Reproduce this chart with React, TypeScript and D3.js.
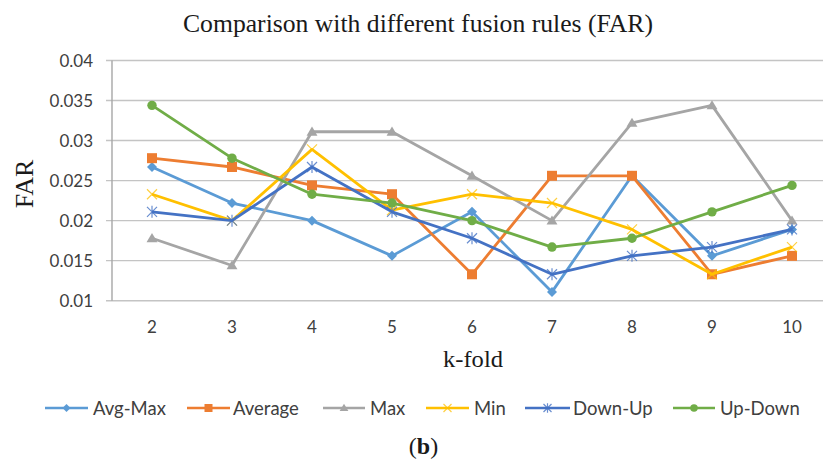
import React from "react";
import * as d3 from "d3";

const folds = ["2", "3", "4", "5", "6", "7", "8", "9", "10"];
const avgMax = [0.0267, 0.0222, 0.02, 0.0156, 0.0211, 0.0111, 0.0256, 0.0156, 0.0189];
const average = [0.0278, 0.0267, 0.0244, 0.0233, 0.0133, 0.0256, 0.0256, 0.0133, 0.0156];
const maxRule = [0.0178, 0.0144, 0.0311, 0.0311, 0.0256, 0.02, 0.0322, 0.0344, 0.02];
const minRule = [0.0233, 0.02, 0.0289, 0.0213, 0.0233, 0.0222, 0.0189, 0.0133, 0.0167];
const downUp = [0.0211, 0.02, 0.0267, 0.0211, 0.0178, 0.0133, 0.0156, 0.0167, 0.0189];
const upDown = [0.0344, 0.0278, 0.0233, 0.0222, 0.02, 0.0167, 0.0178, 0.0211, 0.0244];
const yTicks = [0.01, 0.015, 0.02, 0.025, 0.03, 0.035, 0.04];
const seriesNames = ["Avg-Max", "Average", "Max", "Min", "Down-Up", "Up-Down"];

type Marker = "diamond" | "square" | "triangle" | "x" | "star" | "circle";
const series: { name: string; values: number[]; color: string; marker: Marker }[] = [
  { name: seriesNames[0], values: avgMax, color: "#5B9BD5", marker: "diamond" },
  { name: seriesNames[1], values: average, color: "#ED7D31", marker: "square" },
  { name: seriesNames[2], values: maxRule, color: "#A5A5A5", marker: "triangle" },
  { name: seriesNames[3], values: minRule, color: "#FFC000", marker: "x" },
  { name: seriesNames[4], values: downUp, color: "#4472C4", marker: "star" },
  { name: seriesNames[5], values: upDown, color: "#70AD47", marker: "circle" },
];

const W = 823;
const H = 463;
const left = 112;
const right = 832;
const top = 60.5;
const bottom = 300.7;

const x = d3.scaleBand<string>().domain(folds).range([left, right]);
const y = d3.scaleLinear().domain([0.01, 0.04]).range([bottom, top]);
const cx = (k: string) => (x(k) as number) + x.bandwidth() / 2;

const SANS = "Lato, 'Open Sans', sans-serif";
const SERIF = "'Liberation Serif', 'Times New Roman', serif";

function MarkerShape({ kind, px, py, color, s = 1 }: { kind: Marker; px: number; py: number; color: string; s?: number }) {
  switch (kind) {
    case "diamond": {
      const r = 5 * s;
      return <path d={`M${px},${py - r}L${px + r},${py}L${px},${py + r}L${px - r},${py}Z`} fill={color} />;
    }
    case "square": {
      const h = 5 * s;
      return <rect x={px - h} y={py - h} width={2 * h} height={2 * h} fill={color} />;
    }
    case "triangle": {
      const h = 5.2 * s;
      return (
        <path
          d={`M${px},${py - h}L${px + h * 1.05},${py + h * 0.75}L${px - h * 1.05},${py + h * 0.75}Z`}
          fill={color}
        />
      );
    }
    case "x": {
      const r = 5 * s;
      return (
        <path
          d={`M${px - r},${py - r}L${px + r},${py + r}M${px - r},${py + r}L${px + r},${py - r}`}
          stroke={color}
          strokeOpacity={0.75}
          strokeWidth={1.2}
        />
      );
    }
    case "star": {
      const r = 5 * s;
      return (
        <path
          d={`M${px - r},${py - r}L${px + r},${py + r}M${px - r},${py + r}L${px + r},${py - r}M${px},${py - r * 1.2}L${px},${py + r * 1.2}`}
          stroke={color}
          strokeOpacity={0.8}
          strokeWidth={1.2}
        />
      );
    }
    case "circle":
      return <circle cx={px} cy={py} r={4.7 * s} fill={color} />;
  }
}

// legend: [line start, line end, text start]
const legendLayout = [
  [45, 88, 93],
  [187, 230, 233],
  [323, 365, 370],
  [426, 469, 474],
  [525, 570, 573],
  [673, 715, 720],
];

export default function App() {
  const line = d3
    .line<number>()
    .x((_, i) => cx(folds[i]))
    .y((v) => y(v));

  return (
    <svg width={W} height={H} style={{ position: "absolute", left: 0, top: 0, background: "#fff" }}>
      <rect width={W} height={H} fill="#fff" />
      <text
        x={183}
        y={31.5}
        textLength={470}
        lengthAdjust="spacingAndGlyphs"
        fontFamily={SERIF}
        fontSize={25}
        fill="#1a1a1a"
      >
        Comparison with different fusion rules (FAR)
      </text>

      {yTicks.map((t) => (
        <g key={t}>
          <line x1={left - 6} x2={right} y1={y(t)} y2={y(t)} stroke="#C4C4C4" strokeWidth={1.4} />
          <text x={93} y={y(t)} dy="0.36em" textAnchor="end" fontFamily={SANS} fontSize={17} fill="#404040">
            {String(t)}
          </text>
        </g>
      ))}
      <line x1={left} x2={left} y1={top} y2={bottom} stroke="#A6A6A6" strokeWidth={1.4} />

      {folds.map((k) => (
        <text key={k} x={cx(k)} y={333} textAnchor="middle" fontFamily={SANS} fontSize={17} fill="#404040">
          {k}
        </text>
      ))}

      <text
        transform={`translate(33,184) rotate(-90)`}
        textAnchor="middle"
        fontFamily={SERIF}
        fontSize={26}
        fill="#1a1a1a"
      >
        FAR
      </text>
      <text
        x={443}
        y={367}
        textLength={60}
        lengthAdjust="spacingAndGlyphs"
        fontFamily={SERIF}
        fontSize={23}
        fill="#1a1a1a"
      >
        k-fold
      </text>

      {series.map((s) => (
        <g key={s.name}>
          <path d={line(s.values) || ""} fill="none" stroke={s.color} strokeWidth={2.8} strokeLinejoin="round" />
          {s.values.map((v, i) => (
            <MarkerShape key={i} kind={s.marker} px={cx(folds[i])} py={y(v)} color={s.color} />
          ))}
        </g>
      ))}

      {series.map((s, i) => {
        const [x1, x2, tx] = legendLayout[i];
        const ly = 408;
        return (
          <g key={s.name}>
            <line x1={x1} x2={x2} y1={ly} y2={ly} stroke={s.color} strokeWidth={2.6} />
            <MarkerShape kind={s.marker} px={(x1 + x2) / 2} py={ly} color={s.color} s={0.8} />
            <text x={tx} y={ly} dy="0.36em" fontFamily={SANS} fontSize={18.5} fill="#404040">
              {s.name}
            </text>
          </g>
        );
      })}

      <text x={423.5} y={454} textAnchor="middle" fontFamily={SERIF} fontSize={24} fill="#1a1a1a">
        (<tspan fontWeight="bold">b</tspan>)
      </text>
    </svg>
  );
}
